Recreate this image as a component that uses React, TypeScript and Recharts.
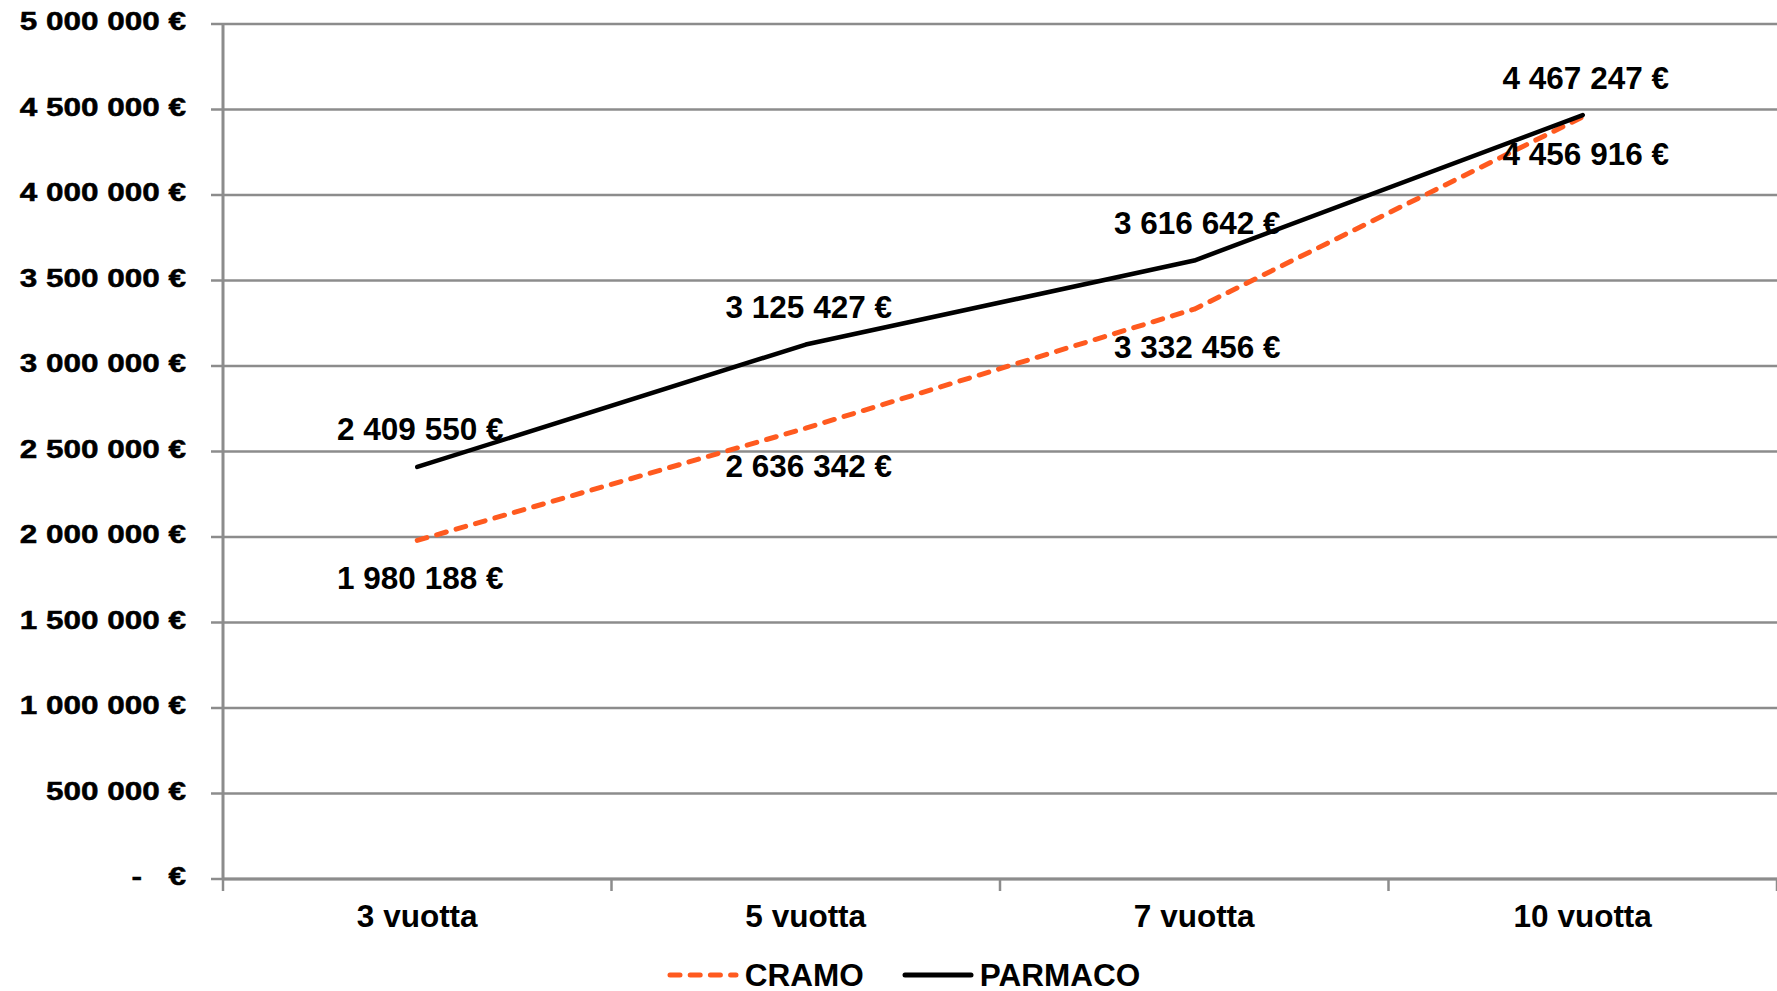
import React from "react";
import { LineChart, Line, XAxis, YAxis, CartesianGrid, Legend, LabelList } from "recharts";

const categories = ["3 vuotta", "5 vuotta", "7 vuotta", "10 vuotta"];
const cramoValues = [1980188, 2636342, 3332456, 4456916];
const parmacoValues = [2409550, 3125427, 3616642, 4467247];
const yTicks = [0, 500000, 1000000, 1500000, 2000000, 2500000, 3000000, 3500000, 4000000, 4500000, 5000000];

const data = categories.map((c, i) => ({
  x: i + 0.5,
  name: c,
  cramo: cramoValues[i],
  parmaco: parmacoValues[i],
}));

const xTicks: number[] = [];
for (let i = 0; i <= categories.length * 2; i++) xTicks.push(i / 2);

const FONT = "'Liberation Sans', Arial, sans-serif";
const GRID = "#8c8c8c";
const ORANGE = "#ff5a1f";

const fmt = (v: number) => String(Math.round(v)).replace(/\B(?=(\d{3})+(?!\d))/g, " ") + " €";

const YTick = (props: any) => {
  const { x, y, payload } = props;
  const v = payload.value as number;
  const common = { fontFamily: FONT, fontWeight: 700, fontSize: 31.5, fill: "#000", stroke: "#000", strokeWidth: 0.6 };
  return (
    <g transform={`translate(${x},${y + 6}) scale(1,0.8)`}>
      {v === 0 ? (
        <>
          <text x={0} y={0} textAnchor="end" {...common}>€</text>
          <text x={-44} y={0} textAnchor="end" {...common}>-</text>
        </>
      ) : (
        <text x={0} y={0} textAnchor="end" {...common}>{fmt(v)}</text>
      )}
    </g>
  );
};

const XTick = (props: any) => {
  const { x, y, payload } = props;
  const v = payload.value as number;
  if (Number.isInteger(v)) {
    return <line x1={x} x2={x} y1={y} y2={y + 12} stroke={GRID} strokeWidth={2.5} />;
  }
  const idx = Math.floor(v);
  return (
    <text x={x} y={y + 48} textAnchor="middle" fontFamily={FONT} fontWeight={700} fontSize={31.5} fill="#000">
      {categories[idx]}
    </text>
  );
};

const labelAbove = (p: any) => (
  <text x={p.x + 3} y={p.y - 26.5} textAnchor="middle" fontFamily={FONT} fontWeight={700} fontSize={31.5} fill="#000">
    {fmt(p.value)}
  </text>
);
const labelBelow = (p: any) => (
  <text x={p.x + 3} y={p.y + 48.5} textAnchor="middle" fontFamily={FONT} fontWeight={700} fontSize={31.5} fill="#000">
    {fmt(p.value)}
  </text>
);

const LegendContent = () => {
  const item = (label: string, color: string, dashed: boolean, ml: number) => (
    <div style={{ display: "flex", alignItems: "center", marginLeft: ml }}>
      <svg width={72} height={12} style={{ display: "block" }}>
        <line
          x1={3}
          x2={69}
          y1={6}
          y2={6}
          stroke={color}
          strokeWidth={5}
          strokeLinecap="round"
          strokeDasharray={dashed ? "10 10.2" : undefined}
        />
      </svg>
      <span style={{ marginLeft: 6, fontFamily: FONT, fontWeight: 700, fontSize: 31.5, color: "#000", lineHeight: "30px" }}>
        {label}
      </span>
    </div>
  );
  return (
    <div style={{ height: 52, boxSizing: "border-box", paddingTop: 20, display: "flex", justifyContent: "center", paddingLeft: 30 }}>
      {item("CRAMO", ORANGE, true, 0)}
      {item("PARMACO", "#000", false, 38)}
    </div>
  );
};

export default function App() {
  return (
    <div style={{ position: "absolute", left: 0, top: 0, width: 1777, height: 991, background: "#fff" }}>
      <LineChart width={1777} height={991} data={data} margin={{ top: 24, right: 0, bottom: 0, left: 0 }}>
        <CartesianGrid horizontal vertical={false} stroke={GRID} strokeWidth={2.5} />
        <XAxis
          dataKey="x"
          type="number"
          domain={[0, categories.length]}
          ticks={xTicks}
          interval={0}
          tickLine={false}
          tickSize={0}
          tickMargin={0}
          axisLine={{ stroke: GRID, strokeWidth: 3 }}
          tick={<XTick />}
          height={60}
        />
        <YAxis
          type="number"
          domain={[0, 5000000]}
          ticks={yTicks}
          interval={0}
          width={223}
          tickSize={12}
          tickMargin={25}
          tickLine={{ stroke: GRID, strokeWidth: 2.5 }}
          axisLine={{ stroke: GRID, strokeWidth: 3 }}
          tick={<YTick />}
        />
        <Legend verticalAlign="bottom" content={<LegendContent />} />
        <Line
          name="CRAMO"
          dataKey="cramo"
          type="linear"
          stroke={ORANGE}
          strokeWidth={5}
          strokeDasharray="10 10.2"
          strokeLinecap="round"
          strokeLinejoin="round"
          dot={false}
          activeDot={false}
          isAnimationActive={false}
        >
          <LabelList dataKey="cramo" content={labelBelow} />
        </Line>
        <Line
          name="PARMACO"
          dataKey="parmaco"
          type="linear"
          stroke="#000"
          strokeWidth={4.5}
          strokeLinecap="round"
          strokeLinejoin="round"
          dot={false}
          activeDot={false}
          isAnimationActive={false}
        >
          <LabelList dataKey="parmaco" content={labelAbove} />
        </Line>
      </LineChart>
    </div>
  );
}
